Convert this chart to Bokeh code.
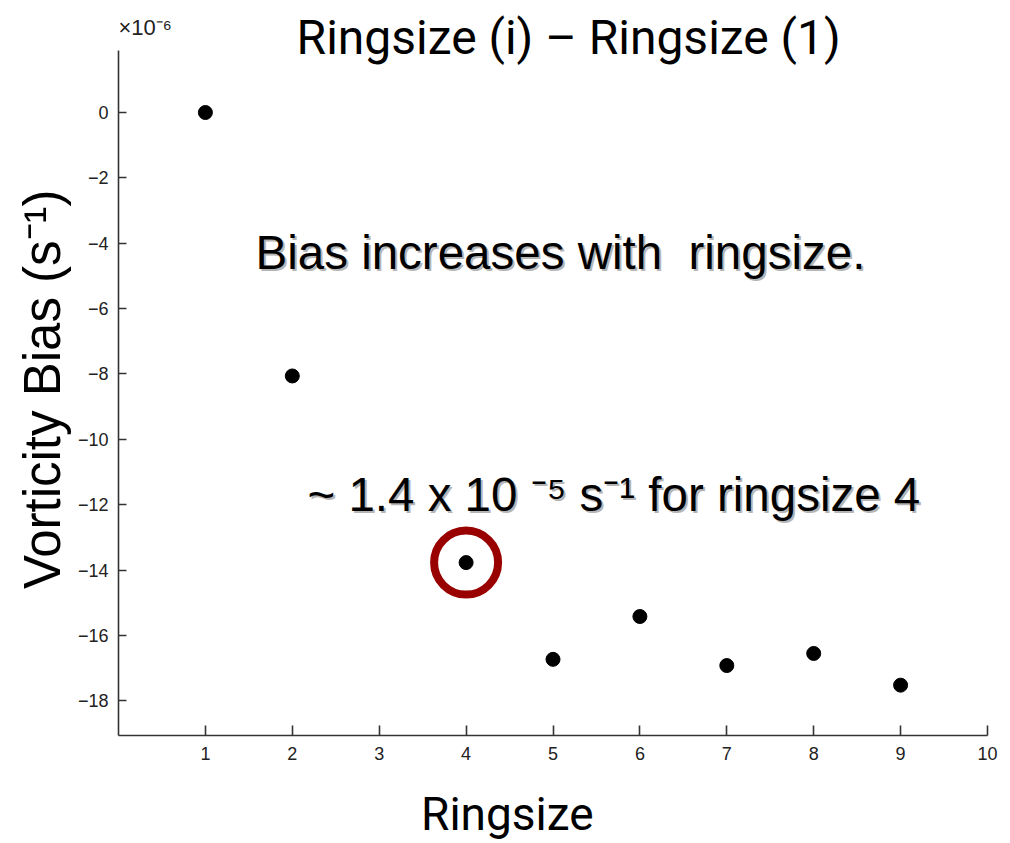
from bokeh.plotting import figure
from bokeh.models import Label, FixedTicker, Range1d
from bokeh.embed import file_html
from bokeh.resources import INLINE

# ---- data (vorticity bias in units of 1e-6 s^-1) ----
ringsize = [1, 2, 4, 5, 6, 7, 8, 9]
bias = [0.0, -8.06, -13.77, -16.73, -15.42, -16.92, -16.55, -17.52]
highlight_ringsize = [4]
highlight_bias = [bias[ringsize.index(4)]]
x_ticks = [1, 2, 3, 4, 5, 6, 7, 8, 9, 10]
y_ticks = [-18, -16, -14, -12, -10, -8, -6, -4, -2, 0]
y_axis_lo, y_axis_hi = -19.06, 1.9

title_text = "Ringsize (i) \u2013 Ringsize (1)"
x_label = "Ringsize" + "\u00a0" * 8
y_label = "Vorticity Bias (s\u207b\u00b9)" + "\u00a0" * 3
note1 = "Bias increases with\u00a0 ringsize."
note2 = "~ 1.4 x 10 \u207b\u2075 s\u207b\u00b9 for ringsize 4"
exp_text = "\u00d710\u207b\u2076"

p = figure(width=1010, height=843, output_backend="svg", toolbar_location=None,
           x_range=Range1d(0, 10), y_range=Range1d(y_axis_lo, 3.427),
           min_border_left=118, min_border_right=23, min_border_top=0,
           min_border_bottom=107)
p.outline_line_color = None
p.xgrid.visible = False
p.ygrid.visible = False
p.background_fill_color = "white"
p.border_fill_color = "white"

for ax in (p.xaxis[0], p.yaxis[0]):
    ax.axis_line_color = "#333333"
    ax.axis_line_width = 1.6
    ax.major_tick_line_color = "#333333"
    ax.major_tick_line_width = 1.6
    ax.major_tick_out = 0
    ax.minor_tick_in = 0
    ax.minor_tick_out = 0
    ax.major_label_text_font = "Liberation Sans"
    ax.major_label_text_font_size = "18px"
    ax.major_label_text_color = "#222222"

p.xaxis.ticker = FixedTicker(ticks=x_ticks)
p.xaxis.major_tick_in = 10
p.xaxis.major_label_standoff = 11
p.xaxis.axis_label = x_label
p.xaxis.axis_label_text_font = "Roboto"
p.xaxis.axis_label_text_font_size = "46px"
p.xaxis.axis_label_text_font_style = "normal"
p.xaxis.axis_label_text_color = "black"
p.xaxis.axis_label_standoff = 24

p.yaxis.ticker = FixedTicker(ticks=y_ticks)
p.yaxis.bounds = (y_axis_lo, y_axis_hi)
p.yaxis.major_tick_in = 8
p.yaxis.major_label_standoff = 10
p.yaxis.major_label_overrides = {t: ("\u2212" + str(abs(t)) if t < 0 else str(t)) for t in y_ticks}
p.yaxis.axis_label = y_label
p.yaxis.axis_label_text_font = "Liberation Sans"
p.yaxis.axis_label_text_font_size = "51px"
p.yaxis.axis_label_text_font_style = "normal"
p.yaxis.axis_label_text_color = "black"
p.yaxis.axis_label_standoff = 4

# data points
p.scatter(ringsize, bias, size=14, marker="circle", fill_color="black", line_color="black")
# highlight ring
p.scatter(highlight_ringsize, highlight_bias, size=64, marker="circle", fill_alpha=0,
          line_color="#990000", line_width=8)

# title & exponent
p.add_layout(Label(x=5.18, y=2.297, text=title_text, text_align="center", text_baseline="alphabetic",
                   text_font="Roboto", text_font_size="48px", text_color="black"))
p.add_layout(Label(x=0, y=2.6, text=exp_text, text_align="left", text_baseline="alphabetic",
                   text_font="Liberation Sans", text_font_size="22px", text_color="#222222"))

# annotations with shadow
for txt, x, y in ((note1, 1.577, -4.27), (note2, 2.175, -11.70)):
    p.add_layout(Label(x=x, y=y, x_offset=2, y_offset=-2, text=txt, text_baseline="alphabetic",
                       text_font="Liberation Sans", text_font_size="47.5px", text_color="#b5b5b5"))
    p.add_layout(Label(x=x, y=y, text=txt, text_baseline="alphabetic",
                       text_font="Liberation Sans", text_font_size="47.5px", text_color="black"))

open("out.html", "w").write(file_html(p, INLINE))
